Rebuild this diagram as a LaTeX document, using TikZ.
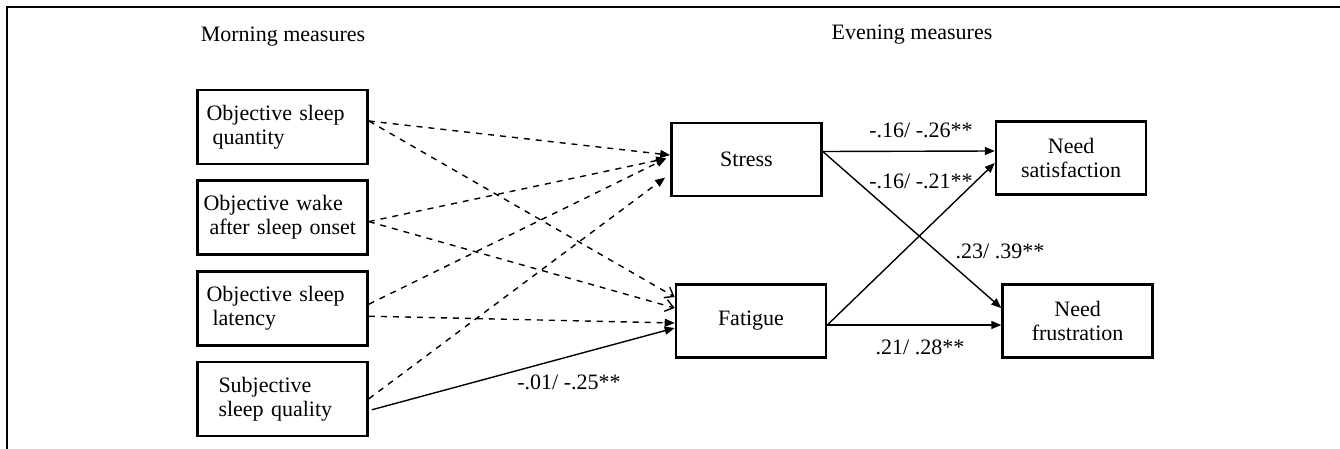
\documentclass[tikz,border=0pt]{standalone}
\usepackage{fontspec}
\setmainfont{Liberation Serif}
\usetikzlibrary{positioning,arrows.meta}

\begin{document}
\begin{tikzpicture}[x = 0.5pt, y = -0.5pt,
        measure/.style = {draw = black, rectangle, line width = 1.3pt, minimum width = 85pt, minimum height = 37pt, inner xsep = 3pt, text width = 79pt, align = left, font = \fontsize{11}{12}\selectfont},
        outcome/.style = {draw = black, rectangle, line width = 1.3pt, minimum width = 75pt, minimum height = 36.5pt, align = center, font = \fontsize{11}{12}\selectfont},
        coef/.style = {font = \fontsize{11}{12}\selectfont, inner sep = 1pt},
        dashpath/.style = {dashed, line width = 0.7pt, -{Triangle[length = 5pt, width = 4pt]}},
        dashopen/.style = {dashed, line width = 0.7pt, -{Straight Barb[length = 4pt, width = 6pt]}},
        solidpath/.style = {line width = 0.7pt, -{Triangle[length = 5pt, width = 4pt]}}]
        \useasboundingbox (0,0) rectangle (1340,449) ;
        \draw [line width = 1.3pt] (7,449) -- (7,7) -- (1340,7) ;

        \node [coef] (nmorning) at (283,37) {Morning measures} ;
        \node [coef] (nevening) at (912,35) {Evening measures} ;

        \node [measure] (quantity) at (282.5,127) {\hspace*{1.5pt}Objective sleep\\\hspace*{4.5pt}quantity} ;
        \node [measure, below = 7pt of quantity] (wake) {Objective wake\\\hspace*{3pt}after sleep onset} ;
        \node [measure, below = 7pt of wake] (latency) {\hspace*{1.5pt}Objective sleep\\\hspace*{4.5pt}latency} ;
        \node [measure, below = 7pt of latency] (quality) {\hspace*{7.5pt}Subjective\\\hspace*{7.5pt}sleep quality} ;

        \node [outcome] (stress) at (746.5,159.5) {Stress} ;
        \node [outcome] (fatigue) at (751,321) {Fatigue} ;
        \node [outcome, right = 86pt of stress, yshift = 0.75pt] (satisf) {Need\\satisfaction} ;
        \node [outcome, right = 87pt of fatigue] (frustr) {Need\\frustration} ;

        % morning -> evening
        \draw [dashpath] ([yshift = 3pt]quantity.east) -- ([yshift = 2.2pt]stress.west) ;
        \draw [dashopen] ([yshift = 3pt]quantity.east) -- ([yshift = 12pt]fatigue.west) ;
        \draw [dashpath] ([yshift = -2pt]wake.east) -- ([xshift = -2pt, yshift = 0.5pt]stress.west) ;
        \draw [dashopen] ([yshift = -2pt]wake.east) -- ([yshift = 6.5pt]fatigue.west) ;
        \draw [dashpath] ([yshift = 2pt]latency.east) -- ([xshift = -2pt, yshift = 0.5pt]stress.west) ;
        \draw [dashpath] ([yshift = -4pt]latency.east) -- ([yshift = -1pt]fatigue.west) ;
        \draw [dashpath] (quality.east) -- ([xshift = -2.5pt, yshift = -9pt]stress.west) ;
        \draw [solidpath] ([xshift = 1.5pt, yshift = -5.5pt]quality.east) -- ([yshift = -3.5pt]fatigue.west) ;

        % evening -> needs
        \draw [solidpath] ([yshift = 4pt]stress.east) -- ([yshift = 3.5pt]satisf.west) ;
        \draw [solidpath] ([yshift = 4pt]stress.east) -- ([yshift = 6.5pt]frustr.west) ;
        \draw [solidpath] ([yshift = -2pt]fatigue.east) -- ([yshift = -2.5pt]satisf.west) ;
        \draw [solidpath] ([yshift = -2pt]fatigue.east) -- ([yshift = -2pt]frustr.west) ;

        \node [coef] (c1) at (569,382) {-.01/ -.25**} ;
        \node [coef] (c2) at (921,130) {-.16/ -.26**} ;
        \node [coef] (c3) at (921,181) {-.16/ -.21**} ;
        \node [coef] (c4) at (1000,251) {.23/ .39**} ;
        \node [coef] (c5) at (920,347) {.21/ .28**} ;
    \end{tikzpicture}
\end{document}
